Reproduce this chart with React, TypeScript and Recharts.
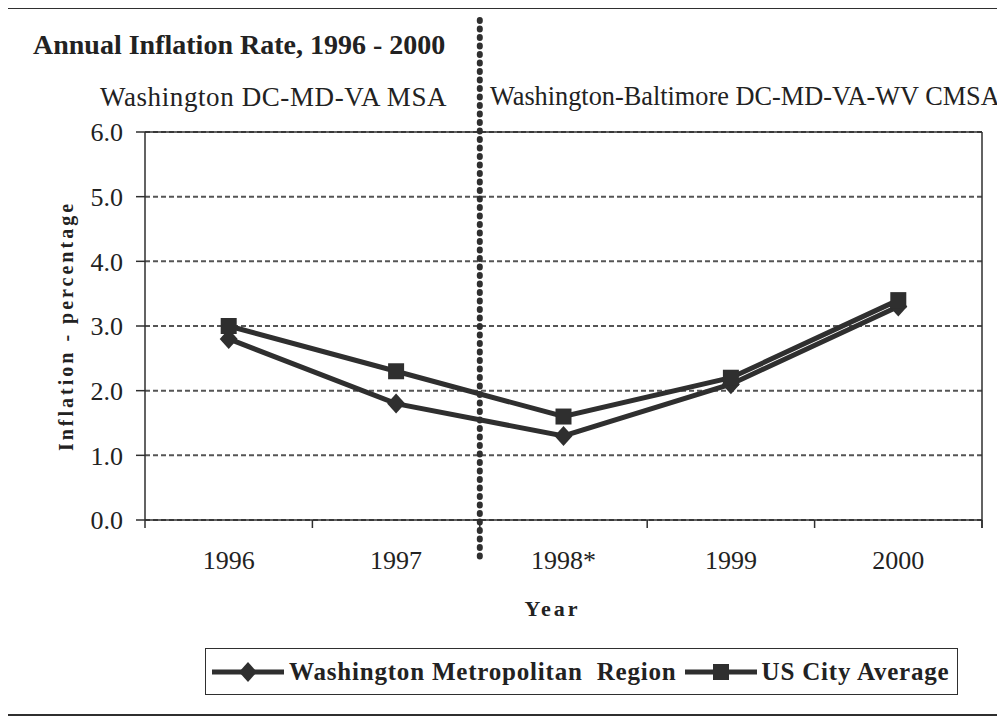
import { LineChart, Line, XAxis, YAxis, CartesianGrid, ReferenceLine, Legend, Label } from "recharts";

// Annual inflation, percent
const YEARS = ["1996", "1997", "1998*", "1999", "2000"];
const WASHINGTON = [2.8, 1.8, 1.3, 2.1, 3.3];
const US_AVERAGE = [3.0, 2.3, 1.6, 2.2, 3.4];
const Y_TICKS = [0, 1, 2, 3, 4, 5, 6];

const data = YEARS.map((year, i) => ({
  year,
  washington: WASHINGTON[i],
  us: US_AVERAGE[i],
}));

const INK = "#2f2f2f";
const SERIF = '"Liberation Serif", "Times New Roman", serif';

const CHART_W = 990;
const CHART_H = 705;
const MARGIN = { top: 123, right: 16, bottom: 94, left: 77 };
const Y_AXIS_W = 60;
const PLOT_W = CHART_W - MARGIN.left - MARGIN.right - Y_AXIS_W;
const BAND = PLOT_W / YEARS.length;

const Diamond = (props: any) => {
  const { cx, cy } = props;
  if (cx == null || cy == null) return <g />;
  return (
    <polygon
      points={`${cx},${cy - 10} ${cx + 9},${cy} ${cx},${cy + 10} ${cx - 9},${cy}`}
      fill={INK}
    />
  );
};

const Square = (props: any) => {
  const { cx, cy } = props;
  if (cx == null || cy == null) return <g />;
  return <rect x={cx - 8} y={cy - 8} width={16} height={16} fill={INK} />;
};

const YearTick = (props: any) => {
  const { x, y, payload, index } = props;
  const half = BAND / 2;
  return (
    <g>
      {index === 0 && (
        <line x1={x - half} y1={y} x2={x - half} y2={y + 8} stroke={INK} strokeWidth={1.5} />
      )}
      <line x1={x + half} y1={y} x2={x + half} y2={y + 8} stroke={INK} strokeWidth={1.5} />
      <text
        x={x}
        y={y + 40}
        textAnchor="middle"
        dominantBaseline="central"
        fontFamily={SERIF}
        fontSize={26}
        fill="#222"
      >
        {payload.value}
      </text>
    </g>
  );
};

// dotted separator between the MSA and CMSA periods, runs past the plot
const Separator = (props: any) => {
  const { x1, y1, y2 } = props;
  const top = Math.min(y1, y2);
  const bottom = Math.max(y1, y2);
  return (
    <line
      x1={x1}
      x2={x1}
      y1={top - 112}
      y2={bottom + 40}
      stroke={INK}
      strokeWidth={6}
      strokeDasharray="1 7.5"
      strokeLinecap="round"
    />
  );
};

const RightEdge = (props: any) => {
  const { x1, y1, y2 } = props;
  return (
    <line
      x1={x1}
      x2={x1}
      y1={Math.min(y1, y2)}
      y2={Math.max(y1, y2) + 8}
      stroke={INK}
      strokeWidth={1.5}
    />
  );
};

const legendItems = [
  { name: "Washington Metropolitan  Region", marker: "diamond" },
  { name: "US City Average", marker: "square" },
];

const LegendBox = () => (
  <div
    style={{
      boxSizing: "border-box",
      width: 753,
      height: 47,
      border: `1.5px solid ${INK}`,
      display: "flex",
      alignItems: "center",
      paddingLeft: 6,
      fontFamily: SERIF,
      fontWeight: "bold",
      fontSize: 25,
      letterSpacing: 0.8,
      color: "#222",
      whiteSpace: "pre",
    }}
  >
    {legendItems.map((item) => (
      <span key={item.name} style={{ display: "flex", alignItems: "center", marginRight: 8 }}>
        <svg width={72} height={24} style={{ marginRight: 5 }}>
          <line x1={0} x2={72} y1={12} y2={12} stroke={INK} strokeWidth={5} />
          {item.marker === "diamond" ? (
            <polygon points="36,2 45,12 36,22 27,12" fill={INK} />
          ) : (
            <rect x={28} y={4} width={16} height={16} fill={INK} />
          )}
        </svg>
        {item.name}
      </span>
    ))}
  </div>
);

export default function App() {
  return (
    <div
      style={{
        position: "relative",
        marginLeft: -2,
        marginTop: -1,
        width: 1000,
        height: 705,
        borderLeft: `2px solid ${INK}`,
        borderTop: `2px solid ${INK}`,
        borderBottom: `2px solid ${INK}`,
        fontFamily: SERIF,
        color: "#222",
      }}
    >
      <div
        style={{
          position: "absolute",
          left: 25,
          top: 22,
          fontSize: 28,
          fontWeight: "bold",
          lineHeight: 1,
          whiteSpace: "nowrap",
        }}
      >
        Annual Inflation Rate, 1996 - 2000
      </div>
      <div
        style={{
          position: "absolute",
          left: 92,
          top: 75,
          fontSize: 27,
          letterSpacing: 0.6,
          lineHeight: 1,
          whiteSpace: "nowrap",
        }}
      >
        Washington DC-MD-VA MSA
      </div>
      <div
        style={{
          position: "absolute",
          left: 482,
          top: 75,
          fontSize: 26.3,
          lineHeight: 1,
          whiteSpace: "nowrap",
        }}
      >
        Washington-Baltimore DC-MD-VA-WV CMSA
      </div>

      <div style={{ position: "absolute", left: 0, top: 0 }}>
        <LineChart width={CHART_W} height={CHART_H} data={data} margin={MARGIN}>
          <CartesianGrid
            horizontal
            vertical={false}
            stroke="#555"
            strokeWidth={2}
            strokeDasharray="5 3"
          />
          <XAxis
            dataKey="year"
            scale="band"
            interval={0}
            height={100}
            tickSize={0}
            tickMargin={0}
            tick={<YearTick />}
            axisLine={{ stroke: INK, strokeWidth: 1.5 }}
          >
            <Label
              content={(p: any) => (
                <text
                  x={p.viewBox.x + p.viewBox.width / 2 - 11}
                  y={p.viewBox.y + 88}
                  textAnchor="middle"
                  dominantBaseline="central"
                  fontFamily={SERIF}
                  fontWeight="bold"
                  fontSize={22}
                  letterSpacing={3}
                  fill="#222"
                >
                  Year
                </text>
              )}
            />
          </XAxis>
          <YAxis
            width={Y_AXIS_W}
            domain={[0, 6]}
            ticks={Y_TICKS}
            tickFormatter={(v: number) => v.toFixed(1)}
            tickSize={9}
            tickMargin={13}
            tick={{ fontFamily: SERIF, fontSize: 26, fill: "#222" }}
            tickLine={{ stroke: INK, strokeWidth: 1.5 }}
            axisLine={{ stroke: INK, strokeWidth: 1.5 }}
          >
            <Label
              content={(p: any) => {
                const cx = p.viewBox.x - 19;
                const cy = p.viewBox.y + p.viewBox.height / 2;
                return (
                  <text
                    x={cx}
                    y={cy}
                    transform={`rotate(-90 ${cx} ${cy})`}
                    textAnchor="middle"
                    dominantBaseline="central"
                    fontFamily={SERIF}
                    fontWeight="bold"
                    fontSize={20}
                    letterSpacing={3}
                    fill="#222"
                  >
                    Inflation - percentage
                  </text>
                );
              }}
            />
          </YAxis>
          <ReferenceLine y={6} stroke={INK} strokeWidth={1.5} />
          <ReferenceLine x="2000" position="end" shape={<RightEdge />} />
          <ReferenceLine x="1997" position="end" shape={<Separator />} />
          <Line
            type="linear"
            dataKey="washington"
            name="Washington Metropolitan Region"
            stroke={INK}
            strokeWidth={5}
            dot={<Diamond />}
            activeDot={false}
            isAnimationActive={false}
          />
          <Line
            type="linear"
            dataKey="us"
            name="US City Average"
            stroke={INK}
            strokeWidth={5}
            dot={<Square />}
            activeDot={false}
            isAnimationActive={false}
          />
          <Legend
            layout="horizontal"
            verticalAlign="middle"
            align="center"
            content={<LegendBox />}
            wrapperStyle={{ left: 197, top: 639, width: 753, height: 47 }}
          />
        </LineChart>
      </div>
    </div>
  );
}
